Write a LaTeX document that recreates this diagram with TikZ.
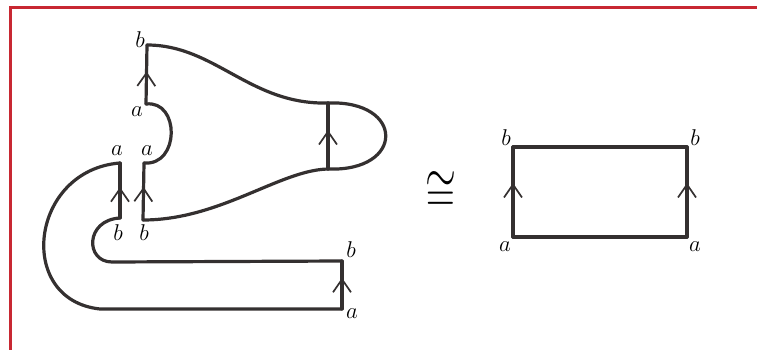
\documentclass[tikz,border=0pt]{standalone}
\usetikzlibrary{arrows.meta,decorations.markings}
\definecolor{frame}{RGB}{200,40,50}
\definecolor{ink}{RGB}{52,48,48}

\begin{document}
\begin{tikzpicture}[
    x=1pt, y=-1pt,
    edge/.style={draw=ink, line width=3.2pt, line join=round, line cap=round},
    up/.style={postaction={decorate}, decoration={markings,
        mark=at position #1 with {\arrow[ink]{Straight Barb[length=13pt, width=18pt, line width=1.7pt]}}}},
    lbl/.style={inner sep=0pt, scale=1.1, font=\fontsize{20.74}{24}\selectfont}
]
    \useasboundingbox (0,0) rectangle (757,350);
    \draw[frame, line width=3pt] (10,350) -- (10,8) -- (757,8);

    % left surface
    \coordinate (b1) at (147,45);
    \coordinate (a1) at (146,104);
    \coordinate (a2) at (144,163);
    \coordinate (b2) at (143,220);
    \coordinate (c1) at (328,103);
    \coordinate (c2) at (328,169);
    \coordinate (a3) at (120,163);
    \coordinate (b3) at (120,218);
    \coordinate (b4) at (342,261);
    \coordinate (a4) at (342,309);
    \coordinate (o1) at (100,309);
    \coordinate (i1) at (112,262);

    \draw[edge, up=0.55] (a1) -- (b1);
    \draw[edge] (b1) .. controls (215,45) and (250,105) .. (c1);
    \draw[edge] (c1) .. controls (405,100) and (405,172) .. (c2);
    \draw[edge, up=0.59] (c2) -- (c1);
    \draw[edge] (c2) .. controls (280,170) and (220,220) .. (b2);
    \draw[edge, up=0.58] (b2) -- (a2);
    \draw[edge] (a2) .. controls (180,166) and (180,100) .. (a1);

    \draw[edge, up=0.56] (b3) -- (a3);
    \draw[edge] (a3) .. controls (30,170) and (15,300) .. (o1) -- (a4);
    \draw[edge, up=0.65] (a4) -- (b4);
    \draw[edge] (b4) -- (i1) .. controls (85,262) and (85,220) .. (b3);

    \node[lbl] (lb1) at (140,40) {$b$};
    \node[lbl] (la1) at (137,112) {$a$};
    \node[lbl] (la2) at (147,151) {$a$};
    \node[lbl] (la3) at (117,151) {$a$};
    \node[lbl] (lb3) at (118,233) {$b$};
    \node[lbl] (lb2) at (144,233) {$b$};
    \node[lbl] (lb4) at (351,250) {$b$};
    \node[lbl] (la4) at (352,314) {$a$};

    \node[inner sep=0pt, xscale=1.6, yscale=2.3, font=\fontsize{24.88}{28}\selectfont] (iso) at (441,192) {$\cong$};

    % square
    \coordinate (r1) at (513,237);
    \coordinate (r2) at (513,147);
    \coordinate (r3) at (687,147);
    \coordinate (r4) at (687,237);
    \draw[edge, up=0.6] (r1) -- (r2);
    \draw[edge] (r2) -- (r3);
    \draw[edge, up=0.6] (r4) -- (r3);
    \draw[edge] (r1) -- (r4);

    \node[lbl] (lr2) at (506,138) {$b$};
    \node[lbl] (lr3) at (695,138) {$b$};
    \node[lbl] (lr1) at (505,247) {$a$};
    \node[lbl] (lr4) at (695,247) {$a$};
\end{tikzpicture}
\end{document}
